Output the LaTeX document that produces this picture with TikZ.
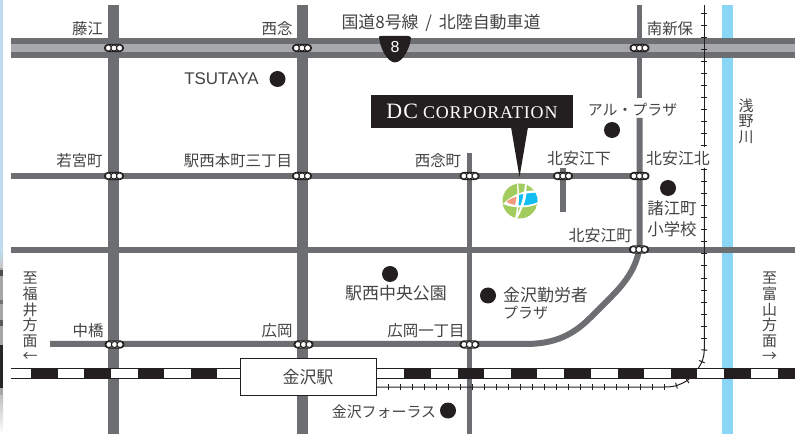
\documentclass[tikz,border=0pt]{standalone}
\usepackage{fontspec}
\setmainfont{Noto Sans CJK JP}
\newfontfamily\latinsans{Liberation Sans}
\newfontfamily\latinserif[LetterSpace=5]{Liberation Serif}
\usetikzlibrary{decorations.markings}
\definecolor{roadc}{HTML}{6D6E71}
\definecolor{hwyc}{HTML}{A7A9AC}
\definecolor{inkc}{HTML}{231F20}
\definecolor{riverc}{HTML}{8AD6F7}
\definecolor{txtc}{HTML}{454344}
\definecolor{logog}{HTML}{A3CC5E}
\definecolor{logob}{HTML}{12BDF2}
\definecolor{logos}{HTML}{F49B7F}
\definecolor{skyc}{HTML}{BFDCEE}
\tikzset{
  x=1bp,y=-1bp,
  road/.style={draw=roadc,line width=#1,line cap=butt},
  lbl/.style={font=\fontsize{15.5}{15.5}\selectfont,text=txtc,inner sep=0pt,align=left},
  lblb/.style={font=\fontsize{17}{17}\selectfont,text=txtc,inner sep=0pt,align=left},
  vlbl/.style={font=\fontsize{15}{15.6}\selectfont,text=txtc,inner sep=0pt,align=center},
  spot/.style={circle,fill=inkc,minimum size=16bp,inner sep=0pt},
  tickrail/.style={draw=inkc,line width=1bp,postaction={decorate},
    decoration={markings,mark=between positions #1 and 1 step 12bp with {\draw[inkc,line width=1bp] (0,-3bp) -- (0,3bp);}}},
}
\newcommand{\signal}[3]{%
  \begin{scope}[shift={(#1,#2)}]
    \node[name=sig#3,draw=inkc,line width=1.1bp,fill=white,rounded corners=3.5bp,minimum width=19bp,minimum height=7bp,inner sep=0pt] {};
    \foreach \dx in {-5.6,0,5.6} \draw[inkc,fill=white,line width=1bp] (\dx,0) circle (3.1bp);
  \end{scope}}
\begin{document}
\begin{tikzpicture}
\useasboundingbox (0,0) rectangle (795,434);
\fill[white] (0,0) rectangle (795,434);
% left photo strip
\fill[skyc] (0,0) rectangle (3,250);
\shade[top color=skyc,bottom color=gray!45] (0,250) rectangle (3,268);
\fill[gray!70] (0,268) rectangle (3,395);
\fill[black!70] (0,270) rectangle (3,276);
\fill[black!55] (0,300) rectangle (3,304);
\fill[black!65] (0,320) rectangle (3,326);
\fill[black!85] (0,345) rectangle (3,388);
\shade[top color=gray!50,bottom color=white] (0,395) rectangle (3,434);
% river
\fill[riverc] (722,5) rectangle (733,434);
% vertical roads
\draw[road=10.5bp] (113.3,5) -- (113.3,434);
\draw[road=10.5bp] (302.6,5) -- (302.6,434);
\draw[road=5.5bp] (469.6,153) -- (469.6,434);
\draw[road=5.5bp] (563,168) -- (563,212);
\draw[road=5.5bp] (639.7,5) -- (639.7,98);
% horizontal roads
\draw[road=6bp] (11,176) -- (645,176);
\draw[road=6bp] (11,250) -- (795,250);
\draw[road=6bp] (639.7,118) -- (639.7,245) .. controls (638,262) and (630,278) .. (612,296) -- (590,318) .. controls (570,338) and (550,344) .. (525,344) -- (50,344);
% highway
\fill[roadc] (11,38.5) rectangle (795,57.8);
\fill[hwyc] (11,44.3) rectangle (795,51.8);
% thin railway
\draw[tickrail=8.3bp] (704.3,5) -- (704.3,147);
\draw[tickrail=2bp] (704.3,168) -- (704.3,350) .. controls (704,365) and (695,372) .. (688,380) .. controls (680,385) and (675,387) .. (665,387) -- (376,387);
% main railway
\fill[white] (11,368.5) rectangle (795,378.5);
\draw[inkc,line width=1.1bp] (11,368.5) -- (795,368.5) (11,378.5) -- (795,378.5);
\foreach \k in {0,...,14} \fill[inkc] ({31+53.33*\k},368.5) rectangle ({57.5+53.33*\k},378.5);
% station
\node[name=station,draw=inkc,line width=1bp,fill=white,minimum width=136bp,minimum height=36bp,inner sep=0pt,font=\fontsize{17}{17}\selectfont,text=txtc] at (308,377) {金沢駅};
% signals
\signal{114}{48}{a}\signal{302}{48}{b}\signal{639.5}{48}{c}
\signal{114}{176}{d}\signal{302}{176}{e}\signal{469.5}{176}{f}\signal{563}{176}{g}\signal{639.5}{176}{h}
\signal{639}{249.5}{i}
\signal{114.5}{344.5}{j}\signal{303.5}{344.5}{k}\signal{469.5}{344.5}{l}
% shield 8
\fill[inkc] (379,37) .. controls (379,36) and (380,36) .. (382,36) -- (408,36) .. controls (410,36) and (411,37) .. (411,38) .. controls (410,48) and (403,62) .. (395,62.5) .. controls (387,62) and (380,48) .. (379,37) -- cycle;
\node[name=shieldlabel,font=\fontsize{16}{16}\selectfont,text=white,inner sep=0pt] at (395,47.5) {\latinsans 8};
% callout
\fill[inkc] (511,127) -- (528,127) -- (519.5,177) -- cycle;
\node[name=callout,fill=inkc,minimum width=202bp,minimum height=33bp,inner sep=0pt,text=white] at (472,111.5) {\latinserif\fontsize{22}{22}\selectfont DC\hspace{5bp}\fontsize{18}{18}\selectfont CORPORATION};
% logo
\begin{scope}
\clip (520,201) circle (17.5bp);
\fill[logog] (520,201) circle (17.5bp);
\fill[white] (503,204) .. controls (515,192) and (527,190) .. (538,190.5) -- (538,204) .. controls (528,208) and (515,209) .. (503,204) -- cycle;
\fill[logos] (506.5,201.8) .. controls (509,199.5) and (513,197.5) .. (516.7,196.7) -- (515,205) .. controls (512,204.5) and (509,203.5) .. (506.5,201.8) -- cycle;
\fill[logob] (519,195) -- (523.5,194) .. controls (523,198) and (522,202) .. (520.5,205.5) -- (517.5,205.5) .. controls (518.5,202) and (519,198) .. (519,195) -- cycle;
\fill[logob] (526.5,193.5) -- (538,192.5) -- (538,202) .. controls (534,204) and (528,205) .. (523.5,205.5) .. controls (525,202) and (526,198) .. (526.5,193.5) -- cycle;
\draw[white,line width=2bp] (526,182) .. controls (525.5,195) and (522,210) .. (515,220);
\draw[white,line width=1.4bp] (517.5,184) .. controls (519,195) and (518,208) .. (516,218);
\end{scope}
% spots
\node[spot,name=s1] at (277.5,79) {};
\node[spot,name=s2] at (612,130) {};
\node[spot,name=s3] at (668,188) {};
\node[spot,name=s4] at (390,274) {};
\node[spot,name=s5] at (488,295.5) {};
\node[spot,name=s6] at (448,410.5) {};
% labels
\node[lbl,name=t1] at (87.5,29) {藤江};
\node[lbl,name=t2] at (277,29) {西念};
\node[lblb,name=t3] at (441,23) {国道8号線\hspace{3bp} / \hspace{3bp}北陸自動車道};
\node[lbl,name=t4] at (670,29) {南新保};
\node[lblb,name=t5] at (221.5,79) {\latinsans TSUTAYA};
\node[lbl,name=t6] at (79.5,160.5) {若宮町};
\node[lbl,name=t7] at (238,160.5) {駅西本町三丁目};
\node[lbl,name=t8] at (438,160.5) {西念町};
\node[lbl,name=t9,font=\fontsize{16}{16}\selectfont] at (579,158.5) {北安江下};
\node[lbl,name=t10,font=\fontsize{16}{16}\selectfont] at (678,158.5) {北安江北};
\node[lbl,name=t11,font=\fontsize{15}{15}\selectfont] at (632.5,109.5) {アル・プラザ};
\node[lbl,name=t12,align=center,font=\fontsize{16.5}{21}\selectfont] at (672,218.5) {諸江町\\小学校};
\node[lbl,name=t13,font=\fontsize{16}{16}\selectfont] at (600.5,235.5) {北安江町};
\node[lblb,name=t14] at (396,293) {駅西中央公園};
\node[lblb,name=t15,anchor=west] at (503,295) {金沢勤労者};
\node[lbl,name=t15b,anchor=west,font=\fontsize{15}{15}\selectfont] at (503,313) {プラザ};
\node[lbl,name=t16] at (88,331) {中橋};
\node[lbl,name=t17] at (277,331) {広岡};
\node[lbl,name=t18] at (426,331) {広岡一丁目};
\node[lbl,name=t19,font=\fontsize{15}{15}\selectfont] at (384,412) {金沢フォーラス};
\node[vlbl,name=t20] at (746,121) {浅\\野\\川};
\node[vlbl,name=t21] at (30,317) {至\\福\\井\\方\\面\\←};
\node[vlbl,name=t22] at (769.5,317) {至\\富\\山\\方\\面\\→};
\end{tikzpicture}
\end{document}
